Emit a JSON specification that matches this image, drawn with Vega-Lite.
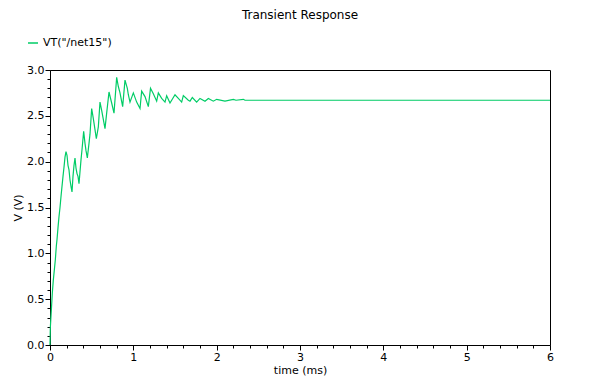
{
  "$schema": "https://vega.github.io/schema/vega-lite/v6.json",
  "width": 500,
  "height": 275,
  "autosize": {"type": "none"},
  "padding": {"left": 50, "top": 70, "right": 51, "bottom": 47},
  "background": "white",
  "title": {"text": "Transient Response", "fontSize": 12, "fontWeight": "normal", "font": "DejaVu Sans", "offset": 15, "anchor": "middle", "color": "black"},
  "config": {
    "view": {"stroke": "black", "strokeWidth": 1},
    "axis": {"grid": false, "domainColor": "black", "tickColor": "black", "labelColor": "black", "titleColor": "black", "labelFont": "DejaVu Sans", "titleFont": "DejaVu Sans", "labelFontSize": 11, "titleFontSize": 11, "titleFontWeight": "normal"}
  },
  "data": {"values": [
    {"t": 0, "v": 0}, {"t": 0.004, "v": 0.19}, {"t": 0.016, "v": 0.38}, {"t": 0.028, "v": 0.57}, {"t": 0.04, "v": 0.71},
    {"t": 0.052, "v": 0.82}, {"t": 0.064, "v": 0.93}, {"t": 0.076, "v": 1.08}, {"t": 0.084, "v": 1.15}, {"t": 0.096, "v": 1.28},
    {"t": 0.108, "v": 1.4}, {"t": 0.12, "v": 1.5}, {"t": 0.132, "v": 1.62}, {"t": 0.144, "v": 1.73}, {"t": 0.156, "v": 1.84},
    {"t": 0.168, "v": 1.94}, {"t": 0.18, "v": 2.05}, {"t": 0.192, "v": 2.11}, {"t": 0.204, "v": 2.07}, {"t": 0.216, "v": 1.96},
    {"t": 0.228, "v": 1.91}, {"t": 0.24, "v": 1.8}, {"t": 0.252, "v": 1.73}, {"t": 0.264, "v": 1.67}, {"t": 0.276, "v": 1.84},
    {"t": 0.288, "v": 1.96}, {"t": 0.3, "v": 2.04}, {"t": 0.312, "v": 1.93}, {"t": 0.324, "v": 1.87}, {"t": 0.336, "v": 1.84},
    {"t": 0.348, "v": 1.76}, {"t": 0.36, "v": 1.89}, {"t": 0.372, "v": 2.02}, {"t": 0.384, "v": 2.13}, {"t": 0.404, "v": 2.33},
    {"t": 0.42, "v": 2.2}, {"t": 0.432, "v": 2.12}, {"t": 0.448, "v": 2.04}, {"t": 0.468, "v": 2.2}, {"t": 0.48, "v": 2.3},
    {"t": 0.5, "v": 2.58}, {"t": 0.52, "v": 2.47}, {"t": 0.54, "v": 2.35}, {"t": 0.556, "v": 2.25}, {"t": 0.58, "v": 2.38},
    {"t": 0.6, "v": 2.65}, {"t": 0.62, "v": 2.56}, {"t": 0.642, "v": 2.45}, {"t": 0.66, "v": 2.36}, {"t": 0.68, "v": 2.53},
    {"t": 0.708, "v": 2.76}, {"t": 0.74, "v": 2.64}, {"t": 0.768, "v": 2.53}, {"t": 0.8, "v": 2.92}, {"t": 0.82, "v": 2.82},
    {"t": 0.84, "v": 2.75}, {"t": 0.872, "v": 2.6}, {"t": 0.9, "v": 2.89}, {"t": 0.928, "v": 2.8}, {"t": 0.94, "v": 2.73},
    {"t": 0.96, "v": 2.65}, {"t": 1.0, "v": 2.75}, {"t": 1.04, "v": 2.65}, {"t": 1.08, "v": 2.58}, {"t": 1.1, "v": 2.77},
    {"t": 1.14, "v": 2.71}, {"t": 1.18, "v": 2.6}, {"t": 1.206, "v": 2.8}, {"t": 1.24, "v": 2.74}, {"t": 1.28, "v": 2.66},
    {"t": 1.3, "v": 2.75}, {"t": 1.34, "v": 2.69}, {"t": 1.38, "v": 2.65}, {"t": 1.4, "v": 2.72}, {"t": 1.44, "v": 2.64},
    {"t": 1.5, "v": 2.73}, {"t": 1.54, "v": 2.69}, {"t": 1.58, "v": 2.65}, {"t": 1.6, "v": 2.72}, {"t": 1.66, "v": 2.67},
    {"t": 1.68, "v": 2.66}, {"t": 1.708, "v": 2.7}, {"t": 1.76, "v": 2.65}, {"t": 1.8, "v": 2.69}, {"t": 1.86, "v": 2.66},
    {"t": 1.9, "v": 2.69}, {"t": 1.96, "v": 2.66}, {"t": 2.0, "v": 2.68}, {"t": 2.1, "v": 2.66}, {"t": 2.2, "v": 2.68},
    {"t": 2.232, "v": 2.67}, {"t": 2.32, "v": 2.68}, {"t": 2.34, "v": 2.67}, {"t": 6.0, "v": 2.67}
  ]},
  "layer": [
    {
      "mark": {"type": "line", "strokeWidth": 1.2},
      "encoding": {
        "x": {"field": "t", "type": "quantitative", "scale": {"domain": [0, 6], "nice": false, "zero": false},
              "axis": {"title": "time (ms)", "values": [0, 1, 2, 3, 4, 5, 6], "format": "d", "tickSize": 5, "labelPadding": 1, "titlePadding": 2, "labelFlush": false}},
        "y": {"field": "v", "type": "quantitative", "scale": {"domain": [0, 3], "nice": false},
              "axis": {"title": "V (V)", "values": [0, 0.5, 1, 1.5, 2, 2.5, 3], "format": ".1f", "tickSize": 5, "labelPadding": 1, "titlePadding": 3, "labelFlush": false}},
        "color": {"datum": "VT(\"/net15\")", "type": "nominal", "scale": {"range": ["#00cc66"]},
                  "legend": {"title": null, "orient": "none", "legendX": -23, "legendY": -33, "symbolType": "stroke", "symbolSize": 100, "symbolStrokeWidth": 1.5, "labelFont": "DejaVu Sans", "labelFontSize": 11, "labelColor": "black", "labelOffset": 4}}
      }
    },
    {
      "mark": {"type": "line", "opacity": 0},
      "encoding": {
        "x": {"field": "t", "type": "quantitative",
              "axis": {"orient": "bottom", "title": null, "labels": false, "domain": false, "tickSize": 3,
                       "values": [0.2, 0.4, 0.6, 0.8, 1.2, 1.4, 1.6, 1.8, 2.2, 2.4, 2.6, 2.8, 3.2, 3.4, 3.6, 3.8, 4.2, 4.4, 4.6, 4.8, 5.2, 5.4, 5.6, 5.8]}},
        "y": {"field": "v", "type": "quantitative",
              "axis": {"orient": "left", "title": null, "labels": false, "domain": false, "tickSize": 3,
                       "values": [0.1, 0.2, 0.3, 0.4, 0.6, 0.7, 0.8, 0.9, 1.1, 1.2, 1.3, 1.4, 1.6, 1.7, 1.8, 1.9, 2.1, 2.2, 2.3, 2.4, 2.6, 2.7, 2.8, 2.9]}}
      }
    }
  ],
  "resolve": {"axis": {"x": "independent", "y": "independent"}}
}
